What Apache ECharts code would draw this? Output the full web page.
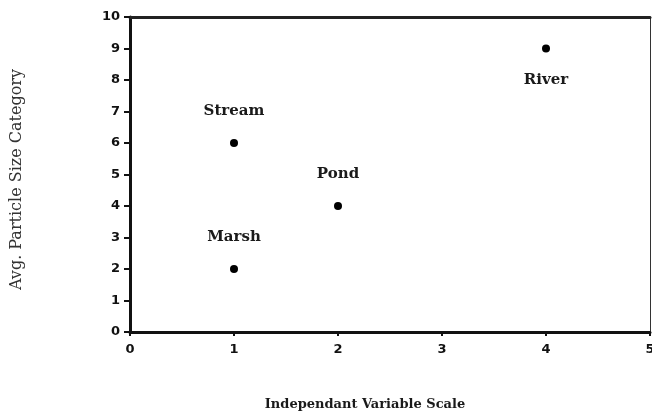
<!DOCTYPE html>
<html><head><meta charset="utf-8">
<script src="https://cdn.jsdelivr.net/npm/echarts@6/dist/echarts.min.js"></script>
<style>html,body{margin:0;padding:0;background:#fff}#c{width:652px;height:416px}</style>
</head><body><div id="c"></div>
<script>
const names = ["Stream", "Marsh", "Pond", "River"];
const xValues = [1, 1, 2, 4];
const yValues = [6, 2, 4, 9];
const labelPos = ["top", "top", "top", "bottom"];
const xTitle = "Independant Variable Scale";
const yTitle = "Avg. Particle Size Category";

const chart = echarts.init(document.getElementById('c'), null, {renderer: 'canvas'});
const tickFont = {fontFamily: 'DejaVu Sans', fontWeight: 'bold', fontSize: 13, color: '#111'};
const data = names.map((n, i) => ({
  value: [xValues[i], yValues[i]],
  name: n,
  label: {position: labelPos[i]}
}));
chart.setOption({
  animation: false,
  grid: {left: 130, top: 17, right: 2, bottom: 84, outerBoundsMode: 'none', containLabel: false},
  xAxis: [{
    type: 'value', min: 0, max: 5, interval: 1,
    axisLine: {onZero: false, lineStyle: {color: '#111', width: 3}},
    axisTick: {show: true, length: 4, lineStyle: {color: '#111', width: 2}},
    axisLabel: Object.assign({margin: 11}, tickFont),
    splitLine: {show: false},
    name: xTitle, nameLocation: 'middle', nameGap: 66,
    nameTextStyle: {fontFamily: 'DejaVu Serif', fontWeight: 'bold', fontSize: 13, color: '#1a1a1a', padding: [0, 50, 0, 0]}
  }, {
    type: 'value', position: 'top', min: 0, max: 5,
    axisLine: {show: true, onZero: false, lineStyle: {color: '#222', width: 3}},
    axisTick: {show: false}, axisLabel: {show: false}, splitLine: {show: false}
  }],
  yAxis: [{
    type: 'value', min: 0, max: 10, interval: 1,
    axisLine: {onZero: false, lineStyle: {color: '#111', width: 3}},
    axisTick: {show: true, length: 6, lineStyle: {color: '#111', width: 2}},
    axisLabel: Object.assign({margin: 10}, tickFont),
    splitLine: {show: false},
    name: yTitle, nameLocation: 'middle', nameGap: 105, nameRotate: 90,
    nameTextStyle: {fontFamily: 'DejaVu Serif', fontSize: 16, color: '#333', padding: [0, 10, 0, 0]}
  }, {
    type: 'value', position: 'right', min: 0, max: 10,
    axisLine: {show: true, onZero: false, lineStyle: {color: '#333', width: 1}},
    axisTick: {show: false}, axisLabel: {show: false}, splitLine: {show: false}
  }],
  series: [{
    type: 'scatter',
    data: data,
    symbolSize: 8,
    itemStyle: {color: '#000', opacity: 1},
    label: {
      show: true, formatter: '{b}', distance: 20,
      fontFamily: 'DejaVu Serif', fontWeight: 'bold', fontSize: 15, color: '#1a1a1a'
    }
  }]
});
</script>
</body></html>
